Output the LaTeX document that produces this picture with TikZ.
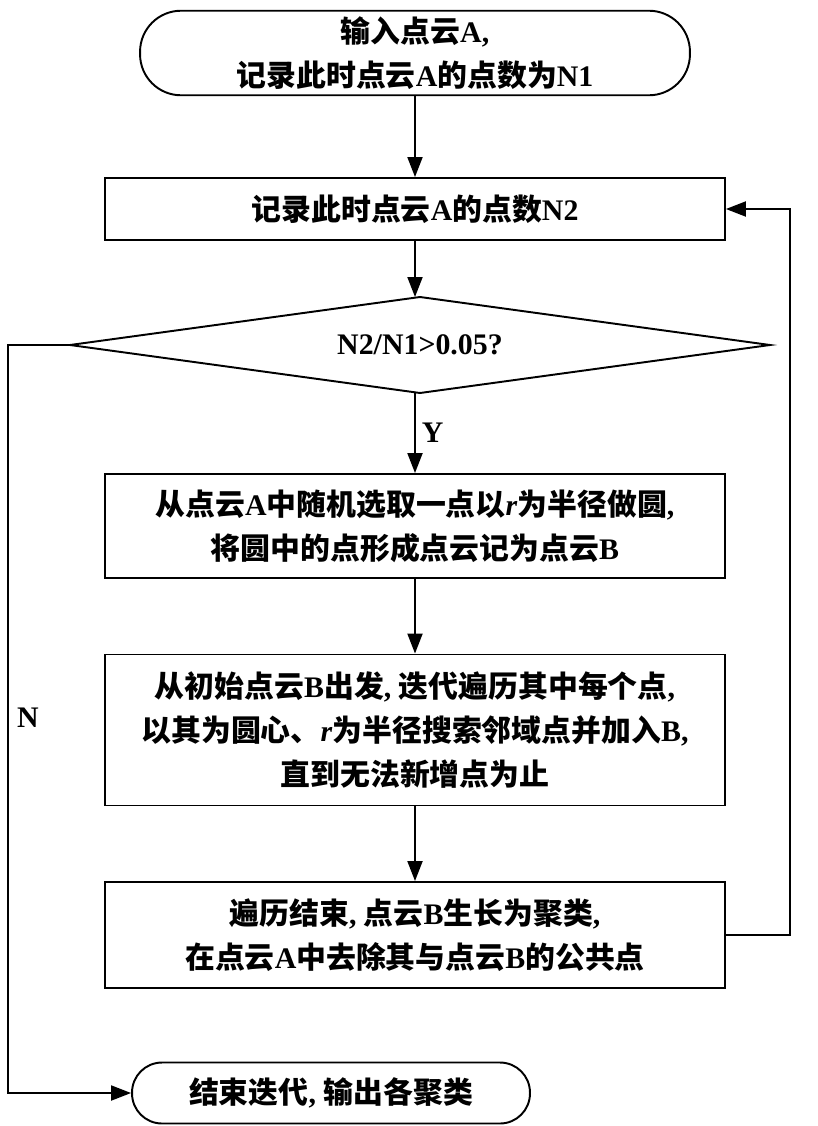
\documentclass[tikz,border=0pt]{standalone}
\usepackage{fontspec}
\setmainfont{Liberation Serif}
\newfontfamily\cjk{Noto Sans CJK SC}
\usetikzlibrary{shapes.geometric,arrows.meta}
\newcommand{\zh}[1]{{\cjk\bfseries #1}}
\begin{document}
\begin{tikzpicture}[
	              x = 0.02cm,
	              y = -0.02cm,
	 box/.style = {draw, line width=1.1pt, minimum width=12.4cm, align=center,
	               font=\fontsize{17}{25}\selectfont\bfseries},
	term/.style = {box, rounded corners=0.82cm},
	 arr/.style = {draw, line width=1.1pt, -{Triangle[length=4mm,width=3mm]}}
	                ]
	\useasboundingbox (0,0) rectangle (818,1126);
	\node[term, minimum width=11cm, minimum height=1.66cm] (start) at (415,53)
	    {\zh{输入点云}A,\\\zh{记录此时点云}A\zh{的点数为}N1};
	\node[box, minimum height=1.24cm] (cnt) at (415,209) {\zh{记录此时点云}A\zh{的点数}N2};
	\node[box, draw=none, minimum height=1.92cm] (dec) at (420,345) {N2/N1>0.05?};
	\draw[line width=1.1pt] (70,345) coordinate (decl) -- (420,297) coordinate (dect)
	    -- (770,345) -- (420,393) coordinate (decb) -- cycle;
	\node[box, minimum height=2.08cm] (pick) at (415,526)
	    {\zh{从点云}A\zh{中随机选取一点以}\textit{r}\zh{为半径做圆},\\\zh{将圆中的点形成点云记为点云}B};
	\node[box, minimum height=3.02cm] (grow) at (415,730)
	    {\zh{从初始点云}B\zh{出发}, \zh{迭代遍历其中每个点},\\\zh{以其为圆心、}\textit{r}\zh{为半径搜索邻域点并加入}B,\\\zh{直到无法新增点为止}};
	\node[box, minimum height=2.12cm] (del) at (415,935)
	    {\zh{遍历结束}, \zh{点云}B\zh{生长为聚类},\\\zh{在点云}A\zh{中去除其与点云}B\zh{的公共点}};
	\node[term, minimum width=7.96cm, minimum height=1.22cm, rounded corners=0.6cm] (stop) at (331,1093)
	    {\zh{结束迭代}, \zh{输出各聚类}};
	% connectors
	\path[arr] (start) -- (cnt);
	\path[arr] (cnt) -- (415,297);
	\path[arr] (415,393) -- node[right, font=\fontsize{17}{20}\selectfont\bfseries] (yes) {Y} (pick);
	\path[arr] (pick) -- (grow);
	\path[arr] (grow) -- (del);
	\path[arr] (del.east) -- (790,935) -- (790,209) -- (cnt.east);
	\path[arr] (decl) -- (8,345) -- (8,1093) -- (stop.west);
	\node[font=\fontsize{17}{20}\selectfont\bfseries] (no) at (28,718) {N};
\end{tikzpicture}
\end{document}
